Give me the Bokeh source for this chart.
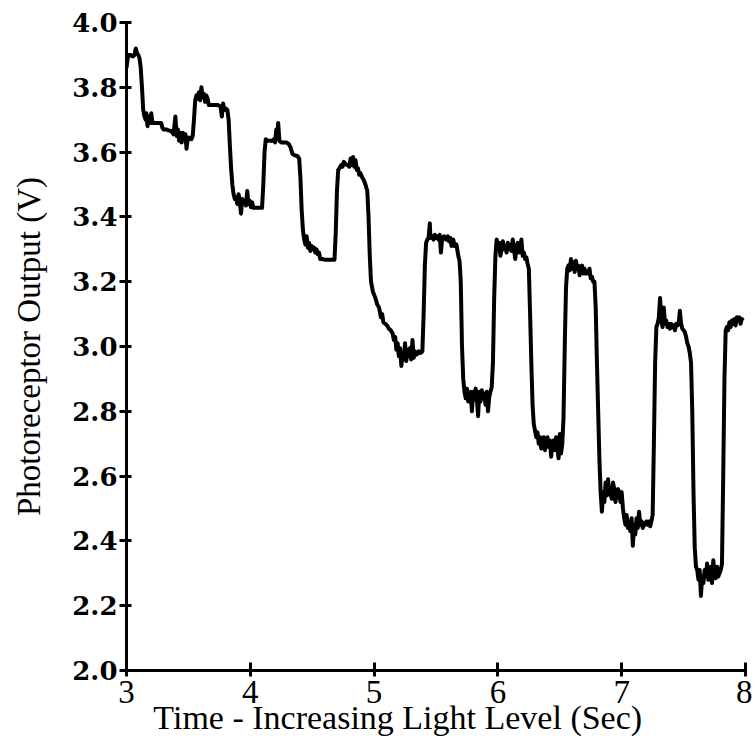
from bokeh.plotting import figure
from bokeh.embed import file_html
from bokeh.resources import INLINE
from bokeh.models import Range1d, FixedTicker

# Time (s) and photoreceptor output (V)
time_s = [
    3.000, 3.010, 3.020, 3.035, 3.050, 3.065, 3.075, 3.085, 3.095, 3.105,
    3.115, 3.125, 3.135, 3.145, 3.155, 3.160, 3.170, 3.180, 3.190, 3.200,
    3.210, 3.220, 3.240, 3.260, 3.280, 3.290, 3.300, 3.320, 3.340, 3.360,
    3.380, 3.395, 3.405, 3.415, 3.425, 3.435, 3.445, 3.455, 3.465, 3.475,
    3.485, 3.495, 3.505, 3.515, 3.525, 3.535, 3.545, 3.555, 3.565, 3.575,
    3.585, 3.595, 3.605, 3.615, 3.625, 3.635, 3.645, 3.655, 3.665, 3.675,
    3.700, 3.720, 3.740, 3.760, 3.770, 3.780, 3.790, 3.800, 3.815, 3.825,
    3.835, 3.845, 3.855, 3.865, 3.875, 3.885, 3.895, 3.905, 3.915, 3.925,
    3.935, 3.945, 3.955, 3.965, 3.975, 3.985, 3.995, 4.005, 4.015, 4.025,
    4.050, 4.075, 4.095, 4.105, 4.115, 4.125, 4.140, 4.160, 4.180, 4.190,
    4.200, 4.210, 4.220, 4.225, 4.235, 4.250, 4.270, 4.290, 4.310, 4.325,
    4.340, 4.360, 4.380, 4.395, 4.405, 4.415, 4.425, 4.435, 4.445, 4.455,
    4.465, 4.475, 4.485, 4.495, 4.505, 4.515, 4.525, 4.535, 4.545, 4.555,
    4.565, 4.580, 4.600, 4.620, 4.640, 4.660, 4.680, 4.690, 4.700, 4.710,
    4.720, 4.735, 4.745, 4.755, 4.765, 4.780, 4.790, 4.800, 4.810, 4.820,
    4.830, 4.840, 4.850, 4.860, 4.870, 4.880, 4.890, 4.900, 4.915, 4.930,
    4.945, 4.955, 4.965, 4.975, 4.990, 5.010, 5.025, 5.040, 5.055, 5.065,
    5.075, 5.090, 5.105, 5.120, 5.135, 5.150, 5.160, 5.170, 5.180, 5.190,
    5.200, 5.210, 5.220, 5.230, 5.240, 5.250, 5.260, 5.270, 5.280, 5.290,
    5.300, 5.310, 5.320, 5.330, 5.345, 5.360, 5.375, 5.390, 5.400, 5.410,
    5.420, 5.430, 5.440, 5.450, 5.455, 5.470, 5.480, 5.490, 5.500, 5.510,
    5.520, 5.530, 5.540, 5.550, 5.565, 5.580, 5.595, 5.605, 5.615, 5.625,
    5.640, 5.650, 5.665, 5.680, 5.690, 5.700, 5.710, 5.720, 5.730, 5.740,
    5.750, 5.760, 5.770, 5.780, 5.790, 5.800, 5.810, 5.820, 5.830, 5.840,
    5.850, 5.860, 5.870, 5.880, 5.890, 5.900, 5.910, 5.920, 5.930, 5.940,
    5.950, 5.960, 5.970, 5.980, 5.990, 6.000, 6.010, 6.020, 6.030, 6.040,
    6.050, 6.060, 6.070, 6.080, 6.090, 6.100, 6.110, 6.120, 6.130, 6.140,
    6.150, 6.160, 6.170, 6.180, 6.190, 6.200, 6.210, 6.220, 6.230, 6.240,
    6.250, 6.260, 6.270, 6.280, 6.290, 6.300, 6.310, 6.320, 6.330, 6.340,
    6.350, 6.360, 6.370, 6.380, 6.390, 6.400, 6.410, 6.420, 6.430, 6.440,
    6.450, 6.460, 6.470, 6.480, 6.490, 6.500, 6.510, 6.520, 6.530, 6.540,
    6.550, 6.560, 6.570, 6.580, 6.590, 6.600, 6.610, 6.620, 6.630, 6.640,
    6.650, 6.660, 6.670, 6.680, 6.690, 6.700, 6.710, 6.720, 6.730, 6.740,
    6.750, 6.760, 6.770, 6.780, 6.790, 6.800, 6.810, 6.820, 6.830, 6.840,
    6.850, 6.860, 6.870, 6.880, 6.890, 6.900, 6.910, 6.920, 6.930, 6.940,
    6.950, 6.960, 6.970, 6.980, 6.990, 7.000, 7.010, 7.020, 7.030, 7.040,
    7.050, 7.060, 7.070, 7.080, 7.090, 7.100, 7.110, 7.120, 7.130, 7.140,
    7.150, 7.160, 7.170, 7.180, 7.190, 7.200, 7.210, 7.220, 7.230, 7.240,
    7.250, 7.260, 7.270, 7.280, 7.290, 7.300, 7.310, 7.320, 7.330, 7.340,
    7.350, 7.360, 7.370, 7.380, 7.390, 7.400, 7.410, 7.420, 7.430, 7.440,
    7.450, 7.460, 7.470, 7.480, 7.490, 7.500, 7.510, 7.520, 7.530, 7.540,
    7.550, 7.560, 7.570, 7.580, 7.590, 7.600, 7.610, 7.620, 7.630, 7.640,
    7.650, 7.660, 7.670, 7.680, 7.690, 7.700, 7.710, 7.720, 7.730, 7.740,
    7.750, 7.760, 7.770, 7.780, 7.790, 7.800, 7.810, 7.820, 7.830, 7.840,
    7.850, 7.860, 7.870, 7.880, 7.890, 7.900, 7.910, 7.920, 7.930, 7.940,
    7.950, 7.960, 7.970, 7.980,
]

output_v = [
    3.860, 3.890, 3.900, 3.900, 3.895, 3.900, 3.920, 3.905, 3.900, 3.890,
    3.860, 3.800, 3.730, 3.710, 3.700, 3.720, 3.680, 3.710, 3.690, 3.720,
    3.690, 3.690, 3.690, 3.690, 3.690, 3.675, 3.670, 3.670, 3.667, 3.665,
    3.655, 3.710, 3.650, 3.670, 3.635, 3.660, 3.630, 3.660, 3.640, 3.655,
    3.610, 3.645, 3.640, 3.645, 3.640, 3.650, 3.700, 3.760, 3.775, 3.765,
    3.785, 3.760, 3.800, 3.770, 3.780, 3.755, 3.775, 3.765, 3.745, 3.745,
    3.745, 3.745, 3.745, 3.740, 3.710, 3.750, 3.730, 3.735, 3.730, 3.700,
    3.620, 3.550, 3.500, 3.470, 3.455, 3.460, 3.440, 3.470, 3.450, 3.410,
    3.455, 3.445, 3.450, 3.435, 3.480, 3.440, 3.450, 3.430, 3.445, 3.428,
    3.428, 3.428, 3.428, 3.500, 3.600, 3.640, 3.635, 3.635, 3.635, 3.640,
    3.630, 3.670, 3.660, 3.690, 3.635, 3.630, 3.630, 3.630, 3.625, 3.615,
    3.595, 3.590, 3.588, 3.580, 3.520, 3.420, 3.360, 3.330, 3.315, 3.340,
    3.305, 3.320, 3.295, 3.310, 3.300, 3.305, 3.290, 3.300, 3.285, 3.290,
    3.270, 3.270, 3.268, 3.268, 3.268, 3.268, 3.268, 3.350, 3.480, 3.545,
    3.550, 3.560, 3.555, 3.570, 3.565, 3.560, 3.560, 3.555, 3.580, 3.560,
    3.585, 3.555, 3.575, 3.545, 3.550, 3.530, 3.535, 3.525, 3.515, 3.500,
    3.480, 3.400, 3.280, 3.200, 3.170, 3.150, 3.130, 3.120, 3.090, 3.100,
    3.075, 3.070, 3.065, 3.055, 3.050, 3.040, 3.020, 3.030, 2.990, 3.010,
    2.970, 2.995, 2.940, 2.980, 2.960, 3.010, 2.955, 2.990, 2.970, 2.995,
    2.960, 3.020, 2.965, 2.985, 2.975, 2.985, 2.980, 2.985, 3.100, 3.250,
    3.320, 3.330, 3.335, 3.380, 3.335, 3.340, 3.330, 3.345, 3.335, 3.340,
    3.330, 3.345, 3.290, 3.335, 3.340, 3.330, 3.340, 3.325, 3.335, 3.310,
    3.330, 3.310, 3.315, 3.280, 3.265, 3.200, 3.000, 2.900, 2.860, 2.840,
    2.870, 2.830, 2.855, 2.860, 2.800, 2.860, 2.835, 2.870, 2.840, 2.785,
    2.860, 2.830, 2.865, 2.840, 2.855, 2.820, 2.860, 2.800, 2.845, 2.860,
    2.875, 2.950, 3.150, 3.280, 3.330, 3.300, 3.320, 3.280, 3.300, 3.325,
    3.300, 3.310, 3.290, 3.320, 3.300, 3.315, 3.295, 3.330, 3.300, 3.270,
    3.305, 3.320, 3.290, 3.300, 3.330, 3.280, 3.290, 3.270, 3.275, 3.255,
    3.240, 3.100, 2.950, 2.820, 2.760, 2.740, 2.720, 2.735, 2.700, 2.720,
    2.685, 2.710, 2.720, 2.680, 2.705, 2.720, 2.690, 2.710, 2.660, 2.700,
    2.710, 2.680, 2.720, 2.690, 2.655, 2.730, 2.670, 2.700, 2.780, 3.000,
    3.180, 3.240, 3.250, 3.235, 3.270, 3.240, 3.260, 3.230, 3.265, 3.240,
    3.250, 3.220, 3.245, 3.250, 3.225, 3.240, 3.225, 3.230, 3.225, 3.240,
    3.210, 3.215, 3.200, 3.200, 3.120, 2.950, 2.800, 2.650, 2.550, 2.490,
    2.550, 2.520, 2.580, 2.540, 2.590, 2.550, 2.545, 2.530, 2.580, 2.560,
    2.520, 2.555, 2.560, 2.550, 2.520, 2.550, 2.500, 2.470, 2.450, 2.480,
    2.440, 2.460, 2.430, 2.470, 2.385, 2.450, 2.420, 2.470, 2.440, 2.490,
    2.450, 2.460, 2.440, 2.455, 2.450, 2.460, 2.450, 2.460, 2.445, 2.460,
    2.480, 2.700, 2.950, 3.060, 3.070, 3.090, 3.150, 3.080, 3.060, 3.120,
    3.070, 3.080, 3.060, 3.070, 3.055, 3.070, 3.060, 3.065, 3.050, 3.070,
    3.065, 3.070, 3.110, 3.070, 3.055, 3.050, 3.045, 3.030, 3.010, 3.000,
    2.980, 2.950, 2.800, 2.550, 2.380, 2.320, 2.310, 2.280, 2.310, 2.230,
    2.290, 2.270, 2.310, 2.290, 2.330, 2.280, 2.300, 2.320, 2.270, 2.340,
    2.300, 2.285, 2.320, 2.290, 2.300, 2.310, 2.330, 2.600, 2.900, 3.050,
    3.060, 3.050, 3.075, 3.060, 3.080, 3.070, 3.085, 3.065, 3.090, 3.085,
    3.090, 3.070, 3.085, 3.080,
]

x_ticks = [3, 4, 5, 6, 7, 8]
y_ticks = [2.0, 2.2, 2.4, 2.6, 2.8, 3.0, 3.2, 3.4, 3.6, 3.8, 4.0]
x_title = "Time - Increasing Light Level (Sec)"
y_title = "Photoreceptor Output (V)"

p = figure(width=752, height=741, output_backend="svg", toolbar_location=None,
           x_range=Range1d(3, 8), y_range=Range1d(2.0, 4.0),
           min_border_left=126, min_border_right=7, min_border_top=22,
           min_border_bottom=71)

p.line(time_s, output_v, line_color="black", line_width=4, line_join="round")

p.grid.visible = False
p.outline_line_color = None
p.background_fill_color = "white"
p.border_fill_color = "white"

for ax in (p.xaxis, p.yaxis):
    ax.axis_line_width = 3
    ax.axis_line_color = "black"
    ax.major_tick_line_width = 3
    ax.major_tick_line_color = "black"
    ax.minor_tick_line_color = None
    ax.major_label_text_color = "black"
    ax.axis_label_text_color = "black"
    ax.axis_label_text_font_style = "normal"

p.xaxis.ticker = FixedTicker(ticks=x_ticks)
p.xaxis.major_label_overrides = {t: str(t) for t in x_ticks}
p.xaxis.major_tick_in = 8
p.xaxis.major_tick_out = 6
p.xaxis.major_label_standoff = 4
p.xaxis.major_label_text_font = "Liberation Serif"
p.xaxis.major_label_text_font_size = "33px"
# trailing no-break spaces shift the centred title left, as in the original
p.xaxis.axis_label = x_title + "\u00a0" * 9
p.xaxis.axis_label_text_font = "Liberation Serif"
p.xaxis.axis_label_text_font_size = "34px"
p.xaxis.axis_label_standoff = -7

p.yaxis.ticker = FixedTicker(ticks=y_ticks)
p.yaxis.major_label_overrides = {t: f"{t:.1f}" for t in y_ticks}
p.yaxis.major_tick_in = 5
p.yaxis.major_tick_out = 7
p.yaxis.major_label_standoff = 2
p.yaxis.major_label_text_font = "DejaVu Serif"
p.yaxis.major_label_text_font_style = "bold"
p.yaxis.major_label_text_font_size = "26px"
p.yaxis.axis_label = y_title
p.yaxis.axis_label_text_font = "Liberation Serif"
p.yaxis.axis_label_text_font_size = "33px"
p.yaxis.axis_label_standoff = 22

open("out.html", "w").write(file_html(p, INLINE))
